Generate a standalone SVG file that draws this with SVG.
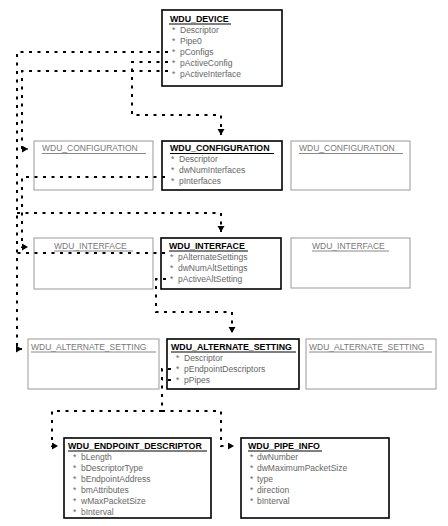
<svg xmlns="http://www.w3.org/2000/svg" width="448" height="526" viewBox="0 0 448 526">
<style>
.t{font-family:"Liberation Sans",Arial,sans-serif;font-size:8.5px;fill:#666}
.h{font-family:"Liberation Sans",Arial,sans-serif;font-size:8.8px;font-weight:bold;fill:#000}
.hg{font-family:"Liberation Sans",Arial,sans-serif;font-size:8.5px;fill:#777}
.bk{fill:#fff;stroke:#000;stroke-width:1.6}
.bg{fill:#fff;stroke:#999;stroke-width:1}
.ub{stroke:#000;stroke-width:1}
.ug{stroke:#888;stroke-width:1}
.c{fill:none;stroke:#000;stroke-width:2;stroke-dasharray:3 5.5}
</style>
<defs>
<marker id="ah" markerUnits="userSpaceOnUse" markerWidth="8" markerHeight="8" refX="6" refY="3.5" orient="auto">
<path d="M0,0 L6,3.5 L0,7 Z" fill="#000"/>
</marker>
</defs>
<g id="wdu_device">
<rect class="bk" x="162" y="10" width="120" height="76"/>
<text class="h" x="170" y="22">WDU_DEVICE</text>
<line class="ub" x1="169" y1="24" x2="231" y2="24"/>
<text class="t" x="172" y="33">*</text><text class="t" x="180" y="33">Descriptor</text>
<text class="t" x="172" y="44">*</text><text class="t" x="180" y="44">Pipe0</text>
<text class="t" x="172" y="55">*</text><text class="t" x="180" y="55">pConfigs</text>
<text class="t" x="172" y="66">*</text><text class="t" x="180" y="66">pActiveConfig</text>
<text class="t" x="172" y="77">*</text><text class="t" x="180" y="77">pActiveInterface</text>
</g>
<g id="config_left">
<rect class="bg" x="34" y="141" width="119" height="49"/>
<text class="hg" x="42" y="151">WDU_CONFIGURATION</text>
<line class="ug" x1="42" y1="153.5" x2="146" y2="153.5"/>
</g>
<g id="config_mid">
<rect class="bk" x="162" y="141" width="120" height="49"/>
<text class="h" x="170" y="151">WDU_CONFIGURATION</text>
<line class="ub" x1="170" y1="153.5" x2="274" y2="153.5"/>
<text class="t" x="171" y="162">*</text><text class="t" x="179" y="162">Descriptor</text>
<text class="t" x="171" y="173">*</text><text class="t" x="179" y="173">dwNumInterfaces</text>
<text class="t" x="171" y="184">*</text><text class="t" x="179" y="184">pInterfaces</text>
</g>
<g id="config_right">
<rect class="bg" x="291" y="141" width="119" height="49"/>
<text class="hg" x="299" y="151">WDU_CONFIGURATION</text>
<line class="ug" x1="299" y1="153.5" x2="403" y2="153.5"/>
</g>
<g id="iface_left">
<rect class="bg" x="34" y="238" width="119" height="51"/>
<text class="hg" x="54" y="249">WDU_INTERFACE</text>
<line class="ug" x1="54" y1="251" x2="133" y2="251"/>
</g>
<g id="iface_mid">
<rect class="bk" x="161" y="238" width="120" height="51"/>
<text class="h" x="169" y="249">WDU_INTERFACE</text>
<line class="ub" x1="169" y1="251" x2="248" y2="251"/>
<text class="t" x="170" y="260">*</text><text class="t" x="178" y="260">pAlternateSettings</text>
<text class="t" x="170" y="271">*</text><text class="t" x="178" y="271">dwNumAltSettings</text>
<text class="t" x="170" y="282">*</text><text class="t" x="178" y="282">pActiveAltSetting</text>
</g>
<g id="iface_right">
<rect class="bg" x="291" y="238" width="119" height="50"/>
<text class="hg" x="312" y="249">WDU_INTERFACE</text>
<line class="ug" x1="312" y1="251" x2="389" y2="251"/>
</g>
<g id="alt_left">
<rect class="bg" x="28" y="339" width="131" height="50"/>
<text class="hg" x="31" y="350">WDU_ALTERNATE_SETTING</text>
<line class="ug" x1="31" y1="352" x2="156" y2="352"/>
</g>
<g id="alt_mid">
<rect class="bk" x="167" y="339" width="132" height="50"/>
<text class="h" x="171" y="350">WDU_ALTERNATE_SETTING</text>
<line class="ub" x1="171" y1="352" x2="296" y2="352"/>
<text class="t" x="176" y="361">*</text><text class="t" x="184" y="361">Descriptor</text>
<text class="t" x="176" y="372">*</text><text class="t" x="184" y="372">pEndpointDescriptors</text>
<text class="t" x="176" y="383">*</text><text class="t" x="184" y="383">pPipes</text>
</g>
<g id="alt_right">
<rect class="bg" x="306" y="339" width="130" height="50"/>
<text class="hg" x="309" y="350">WDU_ALTERNATE_SETTING</text>
<line class="ug" x1="309" y1="352" x2="432" y2="352"/>
</g>
<g id="endpoint">
<rect class="bk" x="64" y="438" width="147" height="80"/>
<text class="h" x="68" y="449">WDU_ENDPOINT_DESCRIPTOR</text>
<line class="ub" x1="68" y1="451" x2="207" y2="451"/>
<text class="t" x="73" y="460">*</text><text class="t" x="81" y="460">bLength</text>
<text class="t" x="73" y="471">*</text><text class="t" x="81" y="471">bDescriptorType</text>
<text class="t" x="73" y="482">*</text><text class="t" x="81" y="482">bEndpointAddress</text>
<text class="t" x="73" y="493">*</text><text class="t" x="81" y="493">bmAttributes</text>
<text class="t" x="73" y="504">*</text><text class="t" x="81" y="504">wMaxPacketSize</text>
<text class="t" x="73" y="515">*</text><text class="t" x="81" y="515">bInterval</text>
</g>
<g id="pipe_info">
<rect class="bk" x="241" y="438" width="148" height="80"/>
<text class="h" x="248" y="449">WDU_PIPE_INFO</text>
<line class="ub" x1="248" y1="451" x2="322" y2="451"/>
<text class="t" x="250" y="460">*</text><text class="t" x="257" y="460">dwNumber</text>
<text class="t" x="250" y="471">*</text><text class="t" x="257" y="471">dwMaximumPacketSize</text>
<text class="t" x="250" y="482">*</text><text class="t" x="257" y="482">type</text>
<text class="t" x="250" y="493">*</text><text class="t" x="257" y="493">direction</text>
<text class="t" x="250" y="504">*</text><text class="t" x="257" y="504">bInterval</text>
</g>
<g id="connectors">
<path class="c" d="M168,52 H17 V349 H22" marker-end="url(#ah)"/>
<path class="c" d="M168,71 H22 V149 H28" marker-end="url(#ah)"/>
<path class="c" d="M168,62 H132 V115 H221 V135" marker-end="url(#ah)"/>
<path class="c" d="M165,177 H22 V247 H28" marker-end="url(#ah)"/>
<path class="c" d="M17,213 H221 V232" marker-end="url(#ah)"/>
<path class="c" d="M165,253 H17"/>
<path class="c" d="M166,279 H156 V312 H232 V333" marker-end="url(#ah)"/>
<path class="c" d="M171,369 H162 V411"/>
<path class="c" d="M171,380 H162"/>
<path class="c" d="M162,411 H52 V446 H58" marker-end="url(#ah)"/>
<path class="c" d="M162,411 H221 V446 H234" marker-end="url(#ah)"/>
</g>
</svg>
